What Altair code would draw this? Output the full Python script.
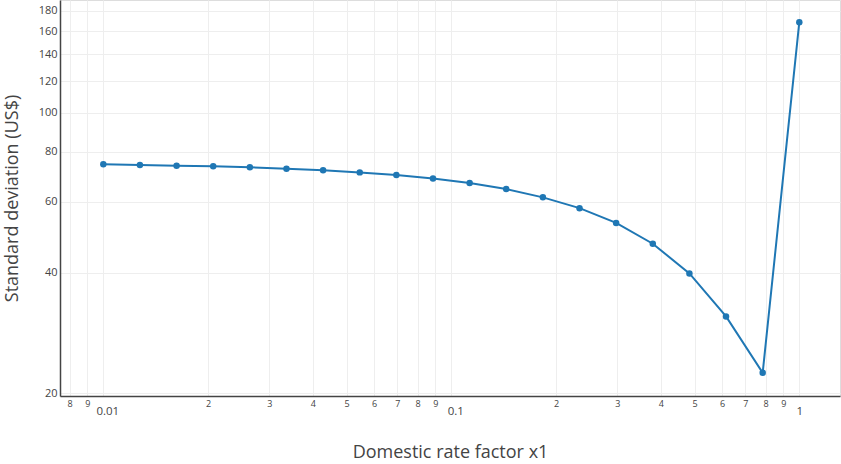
import altair as alt
import pandas as pd

# Domestic rate factor x1 (log-spaced points)
x_vals = [0.01, 0.01274, 0.01624, 0.02069, 0.02637, 0.03360, 0.04281, 0.05456,
          0.06952, 0.08859, 0.1129, 0.1438, 0.1833, 0.2336, 0.2976, 0.3793,
          0.4833, 0.6158, 0.7848, 1.0]
# Standard deviation (US$)
y_vals = [74.5, 74.2, 73.9, 73.6, 73.2, 72.6, 72.0, 71.1, 70.0, 68.6,
          66.9, 64.6, 61.6, 57.9, 53.2, 47.2, 39.8, 31.1, 22.5, 168.4]

x_ticks = [0.008, 0.009, 0.01, 0.02, 0.03, 0.04, 0.05, 0.06, 0.07, 0.08, 0.09,
           0.1, 0.2, 0.3, 0.4, 0.5, 0.6, 0.7, 0.8, 0.9, 1]
y_ticks = [20, 40, 60, 80, 100, 120, 140, 160, 180]

df = pd.DataFrame({"x": x_vals, "y": y_vals})

W, H = 780, 396
FONT = "Open Sans"
GRAY = "#444444"

d = "(log(datum.value)/LN10)"
is_major = f"abs({d} - round({d})) < 0.001"
label_expr = (f"{is_major} ? format(datum.value, '~g') : "
              f"format(datum.value / pow(10, floor({d} + 0.000001)), '.0f')")

x_enc = alt.X(
    "x:Q",
    scale=alt.Scale(type="log", domain=[0.007508, 1.309], nice=False, zero=False),
    axis=alt.Axis(
        values=x_ticks,
        labelExpr=label_expr,
        title="Domestic rate factor x1",
        titleFont=FONT, titleFontSize=18, titleFontWeight="normal", titleColor=GRAY,
        titleY=56, titleBaseline="middle",
        labelFont=FONT, labelColor=GRAY,
        labelFontSize={"condition": {"test": is_major, "value": 11.5}, "value": 9},
        labelPadding={"condition": {"test": is_major, "value": 9}, "value": 3},
        labelOffset={"condition": {"test": f"({is_major}) && datum.value < 0.5", "value": 4},
                     "value": 0},
        labelFlush=False, labelOverlap=False,
        ticks=False, tickSize=0,
        domainColor=GRAY, domainWidth=1.5,
        grid=True, gridColor="#eeeeee", gridWidth=1,
    ),
)
y_enc = alt.Y(
    "y:Q",
    scale=alt.Scale(type="log", domain=[19.69, 191.3], nice=False, zero=False),
    axis=alt.Axis(
        values=y_ticks,
        format="d",
        title="Standard deviation (US$)",
        titleFont=FONT, titleFontSize=18, titleFontWeight="normal", titleColor=GRAY,
        titleX=-48, titleY=198, titleBaseline="middle",
        labelFont=FONT, labelFontSize=11, labelColor=GRAY, labelPadding=3,
        labelFlush=False, labelOverlap=False,
        ticks=False, tickSize=0,
        domainColor=GRAY, domainWidth=1.5,
        grid=True, gridColor="#eeeeee", gridWidth=1,
    ),
)

chart = (
    alt.Chart(df)
    .mark_line(color="#1f77b4", strokeWidth=2,
               point=alt.OverlayMarkDef(color="#1f77b4", size=42, filled=True, opacity=1))
    .encode(x=x_enc, y=y_enc, order=alt.Order("x:Q"))
    .properties(width=W, height=H,
                autosize=alt.AutoSizeParams(type="none"),
                padding={"left": 60, "top": 0, "right": 1, "bottom": 68})
    .configure_view(stroke=None)
    .configure(background="white")
)

chart.save("out.html", embed_options={"renderer": "svg", "actions": False})
